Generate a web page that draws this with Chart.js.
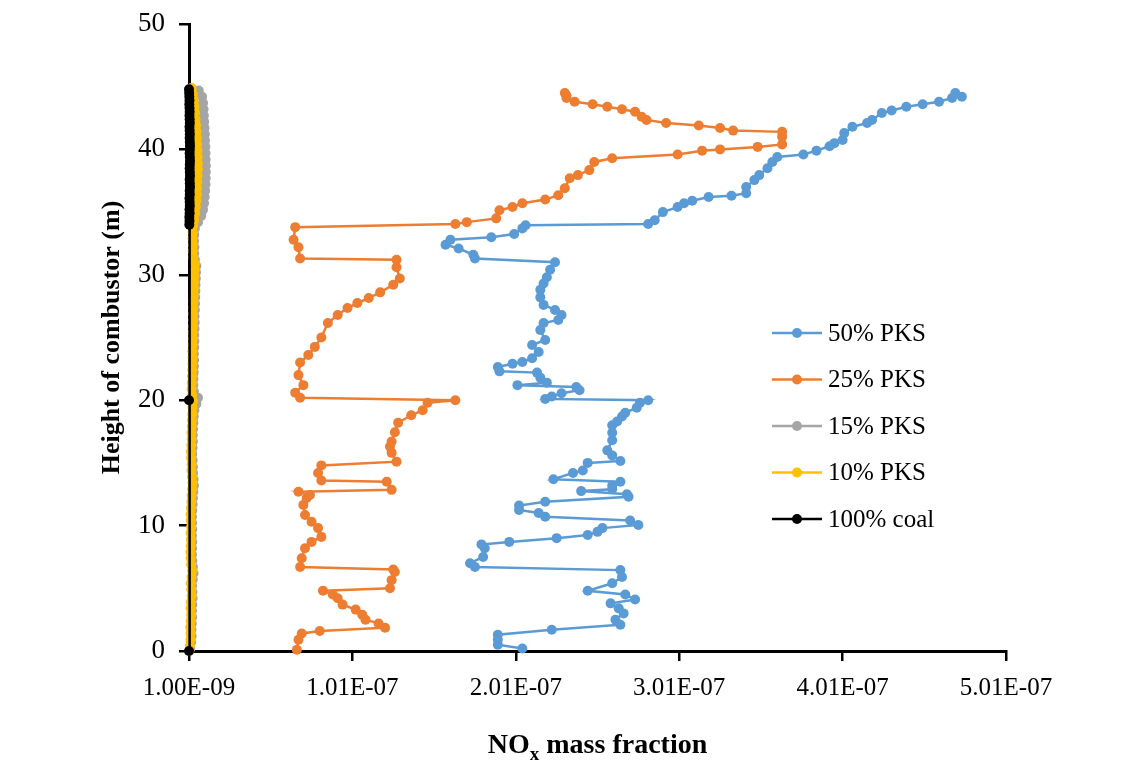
<!DOCTYPE html>
<html><head><meta charset="utf-8">
<script src="https://cdn.jsdelivr.net/npm/chart.js@4.4.1/dist/chart.umd.min.js"></script>
<style>html,body{margin:0;padding:0;background:#fff;}canvas{display:block;}</style>
</head><body>
<canvas id="c" width="1146" height="770"></canvas>
<script>
// ---------- data ----------
const seriesLabels = ['50% PKS', '25% PKS', '15% PKS', '10% PKS', '100% coal'];
const xTickValues = [1.0e-9, 1.01e-7, 2.01e-7, 3.01e-7, 4.01e-7, 5.01e-7];
const yTickValues = [0, 10, 20, 30, 40, 50];

// 50% PKS : height (m) and NOx mass fraction
const h50 = [0.2,0.5,0.9,1.3,1.7,2.1,2.5,3.0,3.4,3.8,4.1,4.5,4.8,5.4,5.9,6.45,6.7,7.0,7.5,8.2,8.5,8.7,9.0,9.25,9.5,9.8,10.05,10.4,10.7,11.0,11.25,11.6,11.9,12.3,12.5,12.75,12.9,13.2,13.5,13.7,14.2,14.4,15.0,15.15,15.6,16.0,16.8,17.4,18.0,18.3,18.7,19.0,19.4,19.8,20.0,20.1,20.3,20.55,20.8,21.05,21.2,21.4,21.8,22.2,22.3,22.65,22.9,23.05,23.35,23.85,24.4,24.8,25.6,26.15,26.4,26.8,27.2,27.6,28.2,28.8,29.3,29.8,30.4,31.0,31.3,31.6,32.1,32.4,32.8,33.0,33.25,33.7,33.95,34.05,34.35,35.0,35.4,35.7,35.9,36.2,36.3,36.5,37.0,37.55,37.95,38.5,39.0,39.4,39.6,39.9,40.25,40.5,40.75,41.3,41.8,42.1,42.35,42.9,43.1,43.4,43.6,43.8,44.1,44.5,44.2];
const x50 = [2.05e-7,1.90e-7,1.90e-7,1.90e-7,2.23e-7,2.65e-7,2.62e-7,2.67e-7,2.64e-7,2.59e-7,2.74e-7,2.68e-7,2.45e-7,2.60e-7,2.66e-7,2.65e-7,1.76e-7,1.73e-7,1.81e-7,1.82e-7,1.80e-7,1.97e-7,2.26e-7,2.45e-7,2.51e-7,2.54e-7,2.76e-7,2.71e-7,2.19e-7,2.15e-7,2.03e-7,2.03e-7,2.19e-7,2.70e-7,2.69e-7,2.41e-7,2.60e-7,2.60e-7,2.65e-7,2.24e-7,2.36e-7,2.42e-7,2.45e-7,2.65e-7,2.60e-7,2.57e-7,2.60e-7,2.60e-7,2.60e-7,2.63e-7,2.66e-7,2.68e-7,2.75e-7,2.77e-7,2.82e-7,2.19e-7,2.23e-7,2.29e-7,2.40e-7,2.38e-7,2.02e-7,2.20e-7,2.16e-7,2.14e-7,1.91e-7,1.90e-7,1.99e-7,2.05e-7,2.11e-7,2.15e-7,2.11e-7,2.19e-7,2.16e-7,2.18e-7,2.27e-7,2.29e-7,2.25e-7,2.18e-7,2.16e-7,2.16e-7,2.18e-7,2.20e-7,2.22e-7,2.25e-7,1.76e-7,1.75e-7,1.66e-7,1.58e-7,1.61e-7,1.86e-7,2.00e-7,2.05e-7,2.07e-7,2.82e-7,2.86e-7,2.91e-7,3.00e-7,3.04e-7,3.09e-7,3.19e-7,3.33e-7,3.42e-7,3.42e-7,3.47e-7,3.50e-7,3.55e-7,3.58e-7,3.61e-7,3.77e-7,3.85e-7,3.93e-7,3.96e-7,4.01e-7,4.02e-7,4.07e-7,4.16e-7,4.19e-7,4.25e-7,4.31e-7,4.40e-7,4.50e-7,4.60e-7,4.68e-7,4.70e-7,4.74e-7];

// 25% PKS
const h25 = [0.1,0.9,1.4,1.6,1.85,2.2,2.5,2.9,3.3,3.7,4.2,4.5,4.8,5.0,5.65,6.3,6.5,6.7,7.4,8.2,8.7,9.1,9.8,10.3,10.85,11.65,12.2,12.45,12.7,12.85,13.5,13.6,14.2,14.8,15.1,15.8,16.3,16.7,17.45,18.2,18.8,19.2,19.8,20.0,20.2,20.6,21.2,22.0,23.0,23.6,24.25,25.0,26.15,26.8,27.35,27.75,28.15,28.6,29.2,29.7,30.6,31.2,31.3,32.2,32.8,33.8,34.05,34.2,34.5,35.15,35.4,35.7,36.0,36.35,36.9,37.7,37.95,38.35,39.0,39.3,39.6,39.9,40.0,40.2,40.4,41.0,41.4,41.5,41.7,41.9,42.1,42.35,42.6,43.0,43.2,43.4,43.6,43.8,44.1,44.3,44.5];
const x25 = [0.67e-7,0.68e-7,0.70e-7,0.81e-7,1.21e-7,1.17e-7,1.09e-7,1.07e-7,1.03e-7,0.95e-7,0.92e-7,0.89e-7,0.83e-7,1.24e-7,1.25e-7,1.27e-7,1.26e-7,0.69e-7,0.70e-7,0.72e-7,0.76e-7,0.82e-7,0.80e-7,0.76e-7,0.72e-7,0.71e-7,0.73e-7,0.75e-7,0.68e-7,1.25e-7,1.22e-7,0.82e-7,0.80e-7,0.82e-7,1.28e-7,1.25e-7,1.24e-7,1.25e-7,1.27e-7,1.29e-7,1.37e-7,1.44e-7,1.47e-7,1.64e-7,0.69e-7,0.66e-7,0.71e-7,0.68e-7,0.69e-7,0.74e-7,0.78e-7,0.82e-7,0.86e-7,0.92e-7,0.98e-7,1.04e-7,1.11e-7,1.18e-7,1.26e-7,1.30e-7,1.28e-7,1.28e-7,0.69e-7,0.68e-7,0.65e-7,0.66e-7,1.64e-7,1.71e-7,1.89e-7,1.91e-7,1.99e-7,2.05e-7,2.19e-7,2.27e-7,2.31e-7,2.34e-7,2.39e-7,2.46e-7,2.49e-7,2.60e-7,3.00e-7,3.15e-7,3.26e-7,3.49e-7,3.64e-7,3.64e-7,3.64e-7,3.34e-7,3.26e-7,3.13e-7,2.93e-7,2.81e-7,2.78e-7,2.74e-7,2.66e-7,2.57e-7,2.48e-7,2.37e-7,2.32e-7,2.32e-7,2.31e-7];

// 15% PKS
const h15 = [0.2,0.7,1.2,1.7,2.2,2.7,3.2,3.7,4.2,4.7,5.2,5.7,6.2,6.7,7.2,7.7,8.2,8.7,9.2,9.7,10.2,10.7,11.2,11.7,12.2,12.7,13.2,13.7,14.2,14.7,15.2,15.7,16.2,16.7,17.2,17.7,18.2,18.7,19.2,19.7,20.2,20.7,21.2,21.7,22.2,22.7,23.2,23.7,24.2,24.7,25.2,25.7,26.2,26.7,27.2,27.7,28.2,28.7,29.2,29.7,30.2,30.7,31.2,31.7,32.2,32.7,33.2,33.7,34.2,34.7,35.2,35.7,36.2,36.7,37.2,37.7,38.2,38.7,39.2,39.7,40.2,40.7,41.2,41.7,42.2,42.7,43.2,43.7,44.2,44.7];
const x15 = [1.8e-9,2.3e-9,2.6e-9,2.5e-9,2.7e-9,2.9e-9,2.8e-9,3.0e-9,3.2e-9,3.1e-9,2.9e-9,3.3e-9,3.8e-9,3.4e-9,3.0e-9,2.8e-9,2.9e-9,3.0e-9,2.8e-9,3.0e-9,2.9e-9,2.8e-9,3.0e-9,3.2e-9,3.4e-9,3.7e-9,4.0e-9,3.8e-9,3.5e-9,3.4e-9,3.2e-9,3.0e-9,3.2e-9,3.4e-9,3.3e-9,3.5e-9,3.7e-9,3.9e-9,4.3e-9,5.5e-9,6.5e-9,4.0e-9,3.6e-9,3.7e-9,3.9e-9,4.0e-9,4.1e-9,4.0e-9,4.2e-9,4.3e-9,4.2e-9,4.4e-9,4.5e-9,4.4e-9,4.6e-9,4.7e-9,4.8e-9,4.9e-9,5.0e-9,5.2e-9,5.3e-9,5.5e-9,4.6e-9,4.2e-9,4.3e-9,4.1e-9,4.2e-9,4.6e-9,6.5e-9,8.5e-9,9.6e-9,10.2e-9,10.6e-9,10.9e-9,11.1e-9,11.2e-9,11.3e-9,11.3e-9,11.2e-9,11.1e-9,11.0e-9,10.8e-9,10.7e-9,10.5e-9,10.3e-9,10.1e-9,9.9e-9,9.6e-9,9.0e-9,7.0e-9];

// 10% PKS
const h10 = [0.0,0.4,0.9,1.4,1.9,2.4,2.9,3.4,3.9,4.4,4.9,5.4,5.9,6.4,6.9,7.4,7.9,8.4,8.9,9.4,9.9,10.4,10.9,11.4,11.9,12.4,12.9,13.4,13.9,14.4,14.9,15.4,15.9,16.4,16.9,17.4,17.9,18.4,18.9,19.4,19.9,20.4,20.9,21.4,21.9,22.4,22.9,23.4,23.9,24.4,24.9,25.4,25.9,26.4,26.9,27.4,27.9,28.4,28.9,29.4,29.9,30.4,30.9,31.4,31.9,32.4,32.9,33.4,33.9,34.4,34.9,35.4,35.9,36.4,36.9,37.4,37.9,38.4,38.9,39.4,39.9,40.4,40.9,41.4,41.9,42.4,42.9,43.4,43.9,44.4,44.9];
const x10 = [1.2e-9,1.6e-9,1.9e-9,2.0e-9,1.8e-9,2.1e-9,2.3e-9,2.0e-9,2.2e-9,2.6e-9,2.4e-9,2.1e-9,2.5e-9,2.9e-9,2.3e-9,2.0e-9,1.9e-9,2.1e-9,2.2e-9,2.0e-9,2.3e-9,2.1e-9,2.0e-9,2.2e-9,2.4e-9,2.6e-9,2.9e-9,3.1e-9,2.8e-9,2.5e-9,2.6e-9,2.3e-9,2.2e-9,2.4e-9,2.6e-9,2.5e-9,2.7e-9,2.8e-9,3.0e-9,3.1e-9,3.6e-9,2.9e-9,2.6e-9,2.7e-9,2.9e-9,3.0e-9,3.1e-9,3.2e-9,3.1e-9,3.3e-9,3.4e-9,3.3e-9,3.5e-9,3.6e-9,3.5e-9,3.7e-9,3.8e-9,3.9e-9,4.0e-9,4.1e-9,4.3e-9,4.4e-9,4.6e-9,3.6e-9,3.3e-9,3.4e-9,3.2e-9,3.3e-9,3.5e-9,4.2e-9,4.8e-9,5.2e-9,5.5e-9,5.8e-9,6.0e-9,6.1e-9,6.3e-9,6.4e-9,6.4e-9,6.3e-9,6.2e-9,6.0e-9,5.8e-9,5.6e-9,5.3e-9,5.0e-9,4.7e-9,4.3e-9,3.9e-9,3.4e-9,2.6e-9];

// 100% coal
const h100 = [0.0,20.0,34.0,34.3,34.6,34.9,35.2,35.5,35.8,36.1,36.4,36.7,37.0,37.3,37.6,37.9,38.2,38.5,38.8,39.1,39.4,39.7,40.0,40.3,40.6,40.9,41.2,41.5,41.8,42.1,42.4,42.7,43.0,43.3,43.6,43.9,44.2,44.5,44.8];
const x100 = [1.0e-9,1.0e-9,1.2e-9,1.3e-9,1.2e-9,1.4e-9,1.3e-9,1.5e-9,1.4e-9,1.3e-9,1.5e-9,1.4e-9,1.6e-9,1.5e-9,1.4e-9,1.6e-9,1.5e-9,1.4e-9,1.5e-9,1.6e-9,1.5e-9,1.4e-9,1.5e-9,1.6e-9,1.5e-9,1.4e-9,1.5e-9,1.4e-9,1.3e-9,1.5e-9,1.4e-9,1.3e-9,1.4e-9,1.3e-9,1.2e-9,1.3e-9,1.2e-9,1.1e-9,1.0e-9];

// ---------- styling ----------
const FONT = "'Liberation Serif', 'Times New Roman', serif";
const colors = ['#5B9BD5', '#ED7D31', '#A5A5A5', '#FFC000', '#000000'];
const drawOrder = [4, 3, 2, 1, 0]; // coal on top, then 10%, 15%
const heights = [h50, h25, h15, h10, h100];
const values = [x50, x25, x15, x10, x100];

function pairs(hs, xs) {
  const n = Math.min(hs.length, xs.length);
  const out = [];
  for (let i = 0; i < n; i++) out.push({x: xs[i], y: hs[i]});
  return out;
}
function fmtSci(v) {
  const s = Number(v).toExponential(2);
  const parts = s.split('e');
  let e = parts[1];
  const sign = e[0] === '-' ? '-' : '+';
  e = e.replace(/[+-]/, '');
  if (e.length < 2) e = '0' + e;
  return parts[0] + 'E' + sign + e;
}

const datasets = seriesLabels.map((lab, i) => ({
  label: lab,
  data: pairs(heights[i], values[i]),
  showLine: true,
  borderColor: colors[i],
  backgroundColor: colors[i],
  pointBackgroundColor: colors[i],
  pointBorderColor: colors[i],
  borderWidth: 2.5,
  pointRadius: 5,
  pointBorderWidth: 0,
  pointHoverRadius: 5,
  tension: 0,
  clip: false,
  order: drawOrder[i]
}));

const legendPlugin = {
  id: 'customLegend',
  afterDraw(chart) {
    const ctx = chart.ctx;
    const ca = chart.chartArea;
    const lineX0 = ca.left + 583, lineX1 = ca.left + 633, textX = ca.left + 639;
    const rowY0 = ca.top + 309, rowStep = 46.5;
    ctx.save();
    ctx.font = '25px ' + FONT;
    ctx.textBaseline = 'middle';
    ctx.textAlign = 'left';
    chart.data.datasets.forEach((ds, i) => {
      const y = rowY0 + i * rowStep;
      ctx.strokeStyle = ds.borderColor;
      ctx.lineWidth = 2.5;
      ctx.beginPath(); ctx.moveTo(lineX0, y); ctx.lineTo(lineX1, y); ctx.stroke();
      ctx.fillStyle = ds.borderColor;
      ctx.beginPath(); ctx.arc((lineX0 + lineX1) / 2, y, 5, 0, Math.PI * 2); ctx.fill();
      ctx.fillStyle = '#000';
      ctx.fillText(ds.label, textX, y + 1);
    });
    ctx.restore();
  }
};

const xTitlePlugin = {
  id: 'xTitle',
  afterDraw(chart) {
    const ctx = chart.ctx;
    const ca = chart.chartArea;
    const cx = (ca.left + ca.right) / 2;
    const y = ca.bottom + 102;
    const big = 'bold 28px ' + FONT, small = 'bold 19px ' + FONT;
    const p1 = 'NO', p2 = 'x', p3 = ' mass fraction';
    ctx.save();
    ctx.fillStyle = '#000';
    ctx.textBaseline = 'alphabetic';
    ctx.textAlign = 'left';
    ctx.font = big; const w1 = ctx.measureText(p1).width, w3 = ctx.measureText(p3).width;
    ctx.font = small; const w2 = ctx.measureText(p2).width;
    let x = cx - (w1 + w2 + w3) / 2;
    ctx.font = big; ctx.fillText(p1, x, y); x += w1;
    ctx.font = small; ctx.fillText(p2, x, y + 7); x += w2;
    ctx.font = big; ctx.fillText(p3, x, y);
    ctx.restore();
  }
};

new Chart(document.getElementById('c'), {
  type: 'scatter',
  data: {datasets},
  options: {
    responsive: false,
    animation: false,
    devicePixelRatio: 1,
    layout: {padding: {left: 0, top: 24, right: 140, bottom: 0}},
    plugins: {legend: {display: false}, tooltip: {enabled: false}},
    scales: {
      x: {
        type: 'linear',
        min: xTickValues[0],
        max: xTickValues[xTickValues.length - 1],
        afterBuildTicks: s => { s.ticks = xTickValues.map(v => ({value: v})); },
        afterFit: s => { s.height = 119; s.paddingLeft = 0; s.paddingRight = 0; },
        ticks: {callback: v => fmtSci(v), font: {family: FONT, size: 25}, color: '#000', padding: 12, maxRotation: 0, autoSkip: false},
        grid: {display: true, drawOnChartArea: false, drawTicks: true, tickLength: 10, color: '#000', lineWidth: 2.5},
        border: {display: true, color: '#000', width: 3}
      },
      y: {
        type: 'linear',
        min: yTickValues[0],
        max: yTickValues[yTickValues.length - 1],
        afterBuildTicks: s => { s.ticks = yTickValues.map(v => ({value: v})); },
        afterFit: s => { s.width = 189; s.paddingTop = 0; s.paddingBottom = 0; },
        ticks: {font: {family: FONT, size: 27}, color: '#000', padding: 14},
        grid: {display: true, drawOnChartArea: false, drawTicks: true, tickLength: 10, color: '#000', lineWidth: 2.5},
        border: {display: true, color: '#000', width: 3},
        title: {display: true, text: 'Height of combustor (m)', color: '#000', font: {family: FONT, size: 26, weight: 'bold'}, padding: {top: 97, bottom: 0}}
      }
    }
  },
  plugins: [legendPlugin, xTitlePlugin]
});
</script>
</body></html>
